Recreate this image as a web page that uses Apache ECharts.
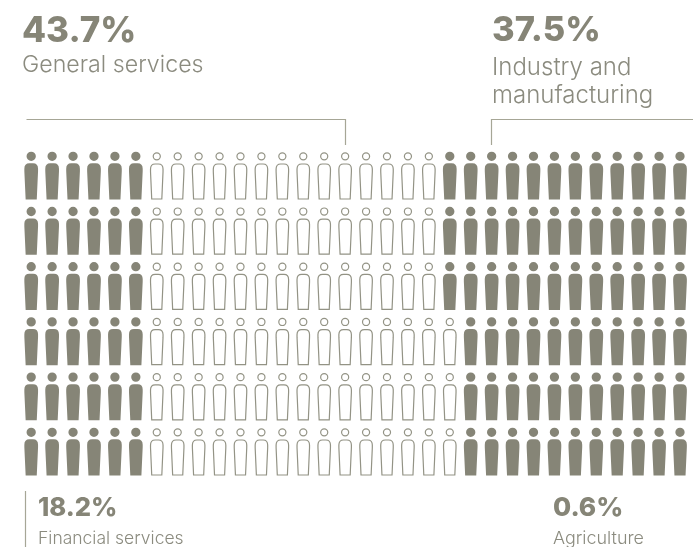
<!DOCTYPE html>
<html><head><meta charset="utf-8">
<style>html,body{margin:0;padding:0;background:#fff;overflow:hidden}#c{width:693px;height:547px}</style>
<script src="https://cdn.jsdelivr.net/npm/echarts@6/dist/echarts.min.js"></script>
</head><body><div id="c"></div>
<script>
const rowCount = 6, columnCount = 32;
// figures per row, left to right, for each sector
const financialPerRow = [6, 6, 6, 6, 6, 6];
const generalPerRow = [14, 14, 14, 15, 15, 15];
const industryPerRow = [12, 12, 12, 11, 11, 10];
const agriculturePerRow = [0, 0, 0, 0, 0, 1];
const labels = [
  { pct: '43.7%', name: 'General services', x: 22, y: 13.5, ny: 52, big: 35, small: 23.2, lh: 27 },
  { pct: '37.5%', name: 'Industry and\nmanufacturing', x: 492, y: 13.5, ny: 53.5, big: 34.5, small: 24, lh: 28 },
  { pct: '18.2%', name: 'Financial services', x: 38, y: 495.5, ny: 525, big: 25.6, small: 17.5, lh: 27 },
  { pct: '0.6%', name: 'Agriculture', x: 553, y: 495.5, ny: 525, big: 26.3, small: 17.9, lh: 27 }
];
const INK = '#868577', LINE = '#939385', TXT = '#8b8b7f', RULE = '#a6a696';
const solid = 'path://M6.85,0A4.65,4.65 0 1 1 6.85,9.3A4.65,4.65 0 1 1 6.85,0ZM5,11.7L8.7,11.7C12,11.7 13.7,13.6 13.7,17L13.7,19.7L12.4,47.9L1.3,47.9L0,19.7L0,17C0,13.6 1.7,11.7 5,11.7Z';
const hollow = 'path://M6.25,0A3.55,3.55 0 1 1 6.25,7.1A3.55,3.55 0 1 1 6.25,0ZM4.6,11.2L7.9,11.2C10.9,11.2 12.5,13 12.5,16.2L12.5,19L11.3,46.2L1.2,46.2L0,19L0,16.2C0,13 1.6,11.2 4.6,11.2Z';

function cells(perRow, startPerRow) {
  const out = [];
  perRow.forEach((n, r) => { for (let i = 0; i < n; i++) out.push([startPerRow[r] + i, r]); });
  return out;
}
const zero = financialPerRow.map(() => 0);
const genStart = financialPerRow.slice();
const indStart = financialPerRow.map((v, i) => v + generalPerRow[i]);
const agrStart = indStart.map((v, i) => v + industryPerRow[i]);
function series(name, data, isHollow) {
  return {
    name, type: 'scatter', data, clip: false, silent: true,
    symbol: isHollow ? hollow : solid,
    symbolSize: isHollow ? 46.2 : 47.9,
    symbolKeepAspect: true,
    symbolOffset: isHollow ? [0, 0.3] : [0, 0],
    itemStyle: isHollow
      ? { color: '#ffffff', borderColor: LINE, borderWidth: 1.2, opacity: 1 }
      : { color: INK, opacity: 1 }
  };
}
const graphic = [
  { type: 'polyline', silent: true, shape: { points: [[26.5, 119.5], [345.5, 119.5], [345.5, 145]] }, style: { fill: null, stroke: RULE, lineWidth: 1.2 } },
  { type: 'polyline', silent: true, shape: { points: [[491.5, 145], [491.5, 119.5], [693, 119.5]] }, style: { fill: null, stroke: RULE, lineWidth: 1.2 } },
  { type: 'line', silent: true, shape: { x1: 25.5, y1: 491, x2: 25.5, y2: 547 }, style: { stroke: RULE, lineWidth: 1.2 } }
];
labels.forEach(l => {
  graphic.push({ type: 'text', silent: true, x: l.x, y: l.y, style: { text: l.pct, fill: INK, font: `800 ${l.big}px Inter` } });
  graphic.push({ type: 'text', silent: true, x: l.x, y: l.ny, style: { text: l.name, fill: TXT, font: `300 ${l.small}px Inter`, lineHeight: l.lh } });
});
const chart = echarts.init(document.getElementById('c'), null, { renderer: 'canvas' });
chart.setOption({
  animation: false,
  backgroundColor: '#ffffff',
  grid: { left: 31.2, right: 13, top: 175.6, bottom: 95.4 },
  xAxis: { type: 'value', min: 0, max: columnCount - 1, show: false },
  yAxis: { type: 'value', min: 0, max: rowCount - 1, inverse: true, show: false },
  series: [
    series('Financial services', cells(financialPerRow, zero), false),
    series('General services', cells(generalPerRow, genStart), true),
    series('Industry and manufacturing', cells(industryPerRow, indStart), false),
    series('Agriculture', cells(agriculturePerRow, agrStart), false)
  ],
  graphic
});
</script></body></html>
